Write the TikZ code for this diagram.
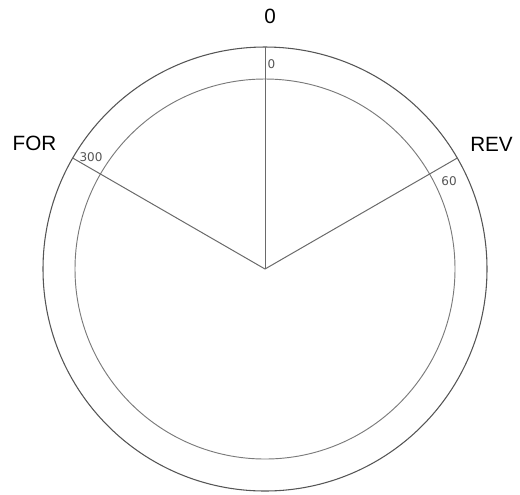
\documentclass[tikz,border=0pt]{standalone}
\usepackage{fontspec}
\setmainfont{Liberation Sans}
\newfontfamily\smallfont{DejaVu Sans}
\definecolor{ringout}{HTML}{555555}
\definecolor{ringin}{HTML}{7A7A7A}
\definecolor{spokecol}{HTML}{6A6A6A}
\definecolor{ticklab}{HTML}{555555}
\tikzset{
  outerring/.style={draw=ringout, line width=0.8pt},
  innerring/.style={draw=ringin, line width=0.7pt},
  spoke/.style={draw=spokecol, line width=0.75pt},
  biglabel/.style={inner sep=0pt, font=\fontsize{15.5}{18}\selectfont, text=black},
  ticklabel/.style={inner sep=0pt, font=\smallfont\fontsize{9}{11}\selectfont, text=ticklab}
}
\begin{document}
\begin{tikzpicture}[x=0.75pt, y=-0.75pt]
\useasboundingbox (0,0) rectangle (520,494);
\coordinate (c) at (265,269);
\draw[outerring] (c) circle[radius=166.5pt];
\draw[innerring] (c) circle[radius=142.5pt];
\coordinate (p0) at (265,47);
\coordinate (p60) at (457.3,158);
\coordinate (p300) at (72.7,158);
\draw[spoke] (c) -- (p0);
\draw[spoke] (c) -- (p60);
\draw[spoke] (c) -- (p300);
\node[biglabel] (ltop) at (270,16) {0};
\node[biglabel] (lfor) at (34.5,143.5) {FOR};
\node[biglabel] (lrev) at (491.5,144) {REV};
\node[ticklabel] (t0) at (271.5,64) {0};
\node[ticklabel] (t300) at (91,157.5) {300};
\node[ticklabel] (t60) at (449,181) {60};
\end{tikzpicture}
\end{document}
